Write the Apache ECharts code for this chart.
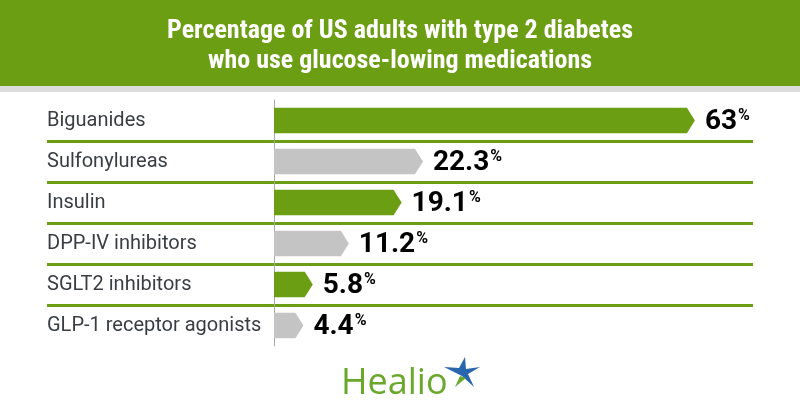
<!DOCTYPE html>
<html>
<head>
<meta charset="utf-8">
<script src="https://cdn.jsdelivr.net/npm/echarts@6/dist/echarts.min.js"></script>
<style>
  html, body { margin: 0; padding: 0; background: #ffffff; }
  #chart { width: 800px; height: 420px; }
</style>
</head>
<body>
<div id="chart"></div>
<script>
const titleLines = ['Percentage of US adults with type 2 diabetes', 'who use glucose-lowing medications']
const categories = ['Biguanides', 'Sulfonylureas', 'Insulin', 'DPP-IV inhibitors', 'SGLT2 inhibitors', 'GLP-1 receptor agonists']
const values = [63, 22.3, 19.1, 11.2, 5.8, 4.4]
const valueLabels = ['63', '22.3', '19.1', '11.2', '5.8', '4.4']

const GREEN = '#6b9e12'
const GRAY = '#c4c4c4'
const TEXT = '#3a3e42'
const TITLE_FONT = 'bold 26px "Liberation Sans Narrow", "Roboto Condensed", Roboto, sans-serif'

const chart = echarts.init(document.getElementById('chart'))

const option = {
  backgroundColor: '#ffffff',
  animation: false,
  graphic: [
    { type: 'rect', shape: { x: 0, y: 0, width: 800, height: 86 }, style: { fill: GREEN } },
    { type: 'rect', shape: { x: 0, y: 86, width: 800, height: 6 }, style: { fill: '#dcdcdc' } },
    {
      type: 'text', x: 400, y: 31,
      style: { text: titleLines[0], fill: '#ffffff', font: TITLE_FONT, align: 'center', verticalAlign: 'middle' }
    },
    {
      type: 'text', x: 400, y: 61,
      style: { text: titleLines[1], fill: '#ffffff', font: TITLE_FONT, align: 'center', verticalAlign: 'middle' }
    },
    // Healio logo
    {
      type: 'text', x: 341, y: 384,
      style: { text: 'Healio', fill: '#6aa82c', font: '36px "Open Sans", Lato, sans-serif', align: 'left', verticalAlign: 'middle' }
    },
    {
      type: 'polygon',
      shape: { points: [[465, 357], [466, 369], [480, 367], [468, 374], [474, 387], [462, 376], [444, 367], [459, 368]] },
      style: { fill: '#2a66ad' }
    },
    {
      type: 'polygon',
      shape: { points: [[460, 376], [466, 378], [455, 387]] },
      style: { fill: '#6aa82c' }
    }
  ],
  grid: [
    { left: 47, right: 47, top: 100, height: 246 },
    { left: 274, right: 45, top: 100, height: 246 }
  ],
  xAxis: [
    { gridIndex: 0, type: 'value', min: 0, max: 1, show: false },
    { gridIndex: 1, type: 'value', min: 0, max: 72, show: false }
  ],
  yAxis: [
    {
      gridIndex: 0,
      type: 'category',
      data: categories,
      inverse: true,
      axisLine: { show: false },
      axisTick: { show: false },
      axisLabel: {
        inside: true,
        margin: 0,
        align: 'left',
        color: TEXT,
        fontFamily: 'Roboto',
        fontSize: 20
      },
      splitLine: {
        show: true,
        showMinLine: false,
        showMaxLine: false,
        lineStyle: { color: GREEN, width: 3 }
      }
    },
    {
      gridIndex: 1,
      type: 'category',
      data: categories,
      inverse: true,
      axisLine: { show: true, lineStyle: { color: '#a8a8a8', width: 1 } },
      axisTick: { show: false },
      axisLabel: { show: false },
      splitLine: { show: false }
    }
  ],
  series: [{
    type: 'custom',
    xAxisIndex: 1,
    yAxisIndex: 1,
    encode: { x: 1, y: 0 },
    data: values.map((v, i) => [i, v]),
    renderItem: (params, api) => {
      const idx = api.value(0)
      const v = api.value(1)
      const start = api.coord([0, idx])
      const end = api.coord([v, idx])
      const h = api.size([0, 1])[1] * 0.62
      const tip = 8
      const x0 = start[0], x1 = end[0], y = start[1]
      const color = idx % 2 === 0 ? GREEN : GRAY
      return {
        type: 'group',
        children: [
          {
            type: 'polygon',
            shape: { points: [[x0, y - h / 2], [x1 - tip, y - h / 2], [x1, y], [x1 - tip, y + h / 2], [x0, y + h / 2]] },
            style: { fill: color }
          },
          {
            type: 'text',
            x: x1 + 10,
            y: y + 1,
            style: {
              text: '{n|' + valueLabels[idx] + '}{p|%}',
              align: 'left',
              verticalAlign: 'middle',
              rich: {
                n: { fontFamily: 'Roboto', fontWeight: 'bold', fontSize: 28, color: TEXT, lineHeight: 28 },
                p: { fontFamily: 'Roboto', fontWeight: 'bold', fontSize: 16, color: TEXT, verticalAlign: 'top', lineHeight: 28, padding: [0, 0, 9, 1] }
              }
            }
          }
        ]
      }
    }
  }]
}

chart.setOption(option)
</script>
</body>
</html>
